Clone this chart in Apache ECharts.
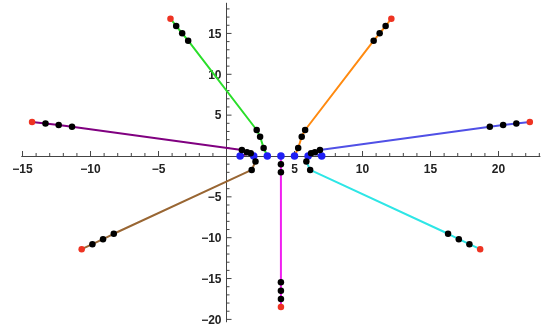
<!DOCTYPE html>
<html><head><meta charset="utf-8">
<script src="https://cdn.jsdelivr.net/npm/echarts@6/dist/echarts.min.js"></script>
<style>html,body{margin:0;padding:0;background:#fff}#c{width:550px;height:329px}</style>
</head><body><div id="c"></div>
<script>
// Paths: start point (blue), intermediate points (black), end point (red)
const purplePath  = [[1,0],[1.78,0.35],[1.5,0.45],[1.13,0.73],[-11.36,3.57],[-12.34,3.79],[-13.31,3.98],[-14.3,4.16]];
const brownPath   = [[2,0],[2.13,-0.68],[1.85,-1.7],[-8.29,-9.52],[-9.08,-10.18],[-9.86,-10.79],[-10.65,-11.4]];
const greenPath   = [[3,0],[2.73,0.98],[2.47,2.36],[2.22,3.18],[-2.82,14.11],[-3.26,15.01],[-3.7,15.91],[-4.12,16.81]];
const magentaPath = [[4,0],[4,-1.0],[4,-2.0],[4,-15.46],[4,-16.49],[4,-17.5],[4,-18.48]];
const orangePath  = [[5,0],[5.27,0.98],[5.53,2.36],[5.78,3.18],[10.82,14.11],[11.26,15.01],[11.7,15.91],[12.12,16.81]];
const cyanPath    = [[6,0],[5.87,-0.68],[6.15,-1.7],[16.29,-9.52],[17.08,-10.18],[17.86,-10.79],[18.65,-11.4]];
const bluePath    = [[7,0],[6.22,0.35],[6.5,0.45],[6.87,0.73],[19.36,3.57],[20.34,3.79],[21.31,3.98],[22.3,4.16]];

const xTickLabels = [-15,-10,-5,5,10,15,20];
const yTickLabels = [-20,-15,-10,-5,5,10,15];

const paths = [
  {data: purplePath,  color: '#800080'},
  {data: brownPath,   color: '#996633'},
  {data: greenPath,   color: '#2ade2a'},
  {data: magentaPath, color: '#f020f0'},
  {data: orangePath,  color: '#ff8a10'},
  {data: cyanPath,    color: '#2ee6e6'},
  {data: bluePath,    color: '#5050e6'}
];

const xMin = -15.06, xMax = 23.05, yMin = -20.3, yMax = 18.7;
const xTicks = []; for (let v = -15; v <= 23; v++) if (v !== 0) xTicks.push([v, xTickLabels.indexOf(v) >= 0 ? 1 : 0]);
const yTicks = []; for (let v = -20; v <= 18; v++) if (v !== 0) yTicks.push([v, yTickLabels.indexOf(v) >= 0 ? 1 : 0]);

const fmt = v => String(v).replace('-', '\u2212');
const labelFont = 'bold 12px "Liberation Sans", Arial, sans-serif';
const axisColor = '#444';

const series = [];
paths.forEach(p => {
  series.push({type: 'line', data: p.data, showSymbol: false, symbol: 'none', silent: true,
    lineStyle: {width: 2, color: p.color}, z: 2});
});
const blueDots = paths.map(p => p.data[0]);
const redDots = paths.map(p => p.data[p.data.length - 1]);
const blackDots = [];
paths.forEach(p => p.data.slice(1, -1).forEach(d => blackDots.push(d)));
series.push({type: 'scatter', data: blueDots, symbolSize: 7.5, itemStyle: {color: '#1f1ff5', opacity: 1}, z: 3, silent: true});
series.push({type: 'scatter', data: redDots, symbolSize: 6.5, itemStyle: {color: '#ee3322', opacity: 1}, z: 4, silent: true});
series.push({type: 'scatter', data: blackDots, symbolSize: 6.5, itemStyle: {color: '#000', opacity: 1}, z: 5, silent: true});

// x-axis ticks & labels, placed through the axis scales
series.push({type: 'custom', data: xTicks, clip: false, silent: true, z: 1,
  renderItem: function (params, api) {
    const v = api.value(0), major = api.value(1);
    const p = api.coord([v, 0]);
    const len = major ? 5 : 3;
    const children = [{type: 'line', shape: {x1: p[0], y1: p[1], x2: p[0], y2: p[1] - len},
      style: {stroke: axisColor, lineWidth: 1}}];
    if (major) children.push({type: 'text', style: {text: fmt(v), x: p[0], y: p[1] + 8,
      align: 'center', verticalAlign: 'top', font: labelFont, fill: '#222'}});
    return {type: 'group', children: children};
  }});
// y-axis ticks & labels
series.push({type: 'custom', data: yTicks.map(t => [0, t[0], t[1]]), clip: false, silent: true, z: 1,
  renderItem: function (params, api) {
    const v = api.value(1), major = api.value(2);
    const p = api.coord([0, v]);
    const len = major ? 5 : 3;
    const children = [{type: 'line', shape: {x1: p[0], y1: p[1], x2: p[0] + len, y2: p[1]},
      style: {stroke: axisColor, lineWidth: 1}}];
    if (major) children.push({type: 'text', style: {text: fmt(v), x: p[0] - 5, y: p[1] + 1,
      align: 'right', verticalAlign: 'middle', font: labelFont, fill: '#222'}});
    return {type: 'group', children: children};
  }});

const chart = echarts.init(document.getElementById('c'), null, {renderer: 'canvas'});
chart.setOption({
  animation: false,
  backgroundColor: '#fff',
  grid: {left: 21.7, right: 10, top: 3.2, bottom: 7.15, containLabel: false, outerBoundsMode: 'none'},
  xAxis: {type: 'value', min: xMin, max: xMax,
    axisLine: {show: true, onZero: true, lineStyle: {color: axisColor, width: 1}},
    axisTick: {show: false}, axisLabel: {show: false}, splitLine: {show: false}},
  yAxis: {type: 'value', min: yMin, max: yMax,
    axisLine: {show: true, onZero: true, lineStyle: {color: axisColor, width: 1}},
    axisTick: {show: false}, axisLabel: {show: false}, splitLine: {show: false}},
  series: series
});
</script></body></html>
